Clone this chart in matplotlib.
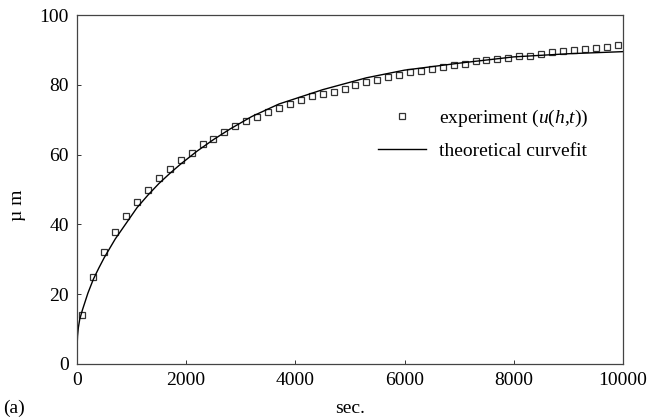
import matplotlib
matplotlib.use("Agg")
import matplotlib.pyplot as plt

# experiment data
exp_t = [100, 300, 500, 700, 900, 1100, 1300, 1500, 1700, 1900,
         2100, 2300, 2500, 2700, 2900, 3100, 3300, 3500, 3700, 3900,
         4100, 4300, 4500, 4700, 4900, 5100, 5300, 5500, 5700, 5900,
         6100, 6300, 6500, 6700, 6900, 7100, 7300, 7500, 7700, 7900,
         8100, 8300, 8500, 8700, 8900, 9100, 9300, 9500, 9700, 9900]
exp_u = [14.0, 25.0, 32.0, 37.7, 42.4, 46.3, 49.9, 53.2, 56.0, 58.5,
         60.6, 62.9, 64.6, 66.4, 68.1, 69.6, 70.9, 72.2, 73.3, 74.4,
         75.6, 76.9, 77.5, 78.0, 78.9, 79.8, 80.8, 81.3, 82.1, 82.7,
         83.6, 83.9, 84.5, 85.1, 85.7, 86.1, 86.7, 87.1, 87.3, 87.7,
         88.2, 88.3, 88.7, 89.3, 89.6, 90.0, 90.3, 90.5, 90.9, 91.5]

# theoretical curve
fit_t = [0, 10, 25, 50, 100, 200, 300, 400, 500, 700, 900, 1100, 1300,
         1500, 1700, 1900, 2200, 2500, 2800, 3200, 3700, 4500, 5300,
         6000, 7000, 8000, 9000, 10000]
fit_u = [4.5, 8.0, 10.4, 12.8, 15.5, 20.3, 24.3, 27.5, 30.5, 35.8, 40.3,
         44.8, 48.4, 51.7, 54.6, 57.3, 61.0, 64.3, 67.3, 70.9, 74.5, 78.6,
         82.0, 84.2, 86.2, 88.0, 88.9, 89.5]

x_ticks = [0, 2000, 4000, 6000, 8000, 10000]
y_ticks = [0, 20, 40, 60, 80, 100]

plt.rcParams['font.family'] = ['Liberation Serif', 'DejaVu Serif']
plt.rcParams['mathtext.fontset'] = 'custom'
plt.rcParams['mathtext.rm'] = 'Liberation Serif'
plt.rcParams['mathtext.it'] = 'Liberation Serif:italic'

fig = plt.figure(figsize=(6.48, 4.19), dpi=100)
ax = fig.add_axes([0.1188, 0.1313, 0.8426, 0.8329])

ax.plot(exp_t, exp_u, linestyle='none', marker='s', markersize=5,
        markerfacecolor='white', markeredgecolor='#333333', markeredgewidth=0.9,
        label='experiment ($u$($h$,$t$))')
ax.plot(fit_t, fit_u, color='black', linewidth=1.0, label='theoretical curvefit')

ax.set_xlim(0, 10000)
ax.set_ylim(0, 100)
ax.set_xticks(x_ticks)
ax.set_yticks(y_ticks)
ax.tick_params(direction='in', length=3, width=0.7, labelsize=14, pad=6, colors='#333333', labelcolor='black')
for s in ax.spines.values():
    s.set_linewidth(0.9)
    s.set_color('#444444')

fig.text(0.027, 0.51, 'µ m', rotation=90, fontsize=14, ha='center', va='center')
fig.text(0.54, 0.026, 'sec.', fontsize=14, ha='center', va='center')
fig.text(0.005, 0.026, '(a)', fontsize=14, ha='left', va='center')

ax.legend(loc='center left', bbox_to_anchor=(0.551, 0.659), frameon=False,
          fontsize=14, handlelength=2.5, handletextpad=0.65, labelspacing=0.68,
          borderpad=0, borderaxespad=0)

fig.savefig('out.png', dpi=100)
